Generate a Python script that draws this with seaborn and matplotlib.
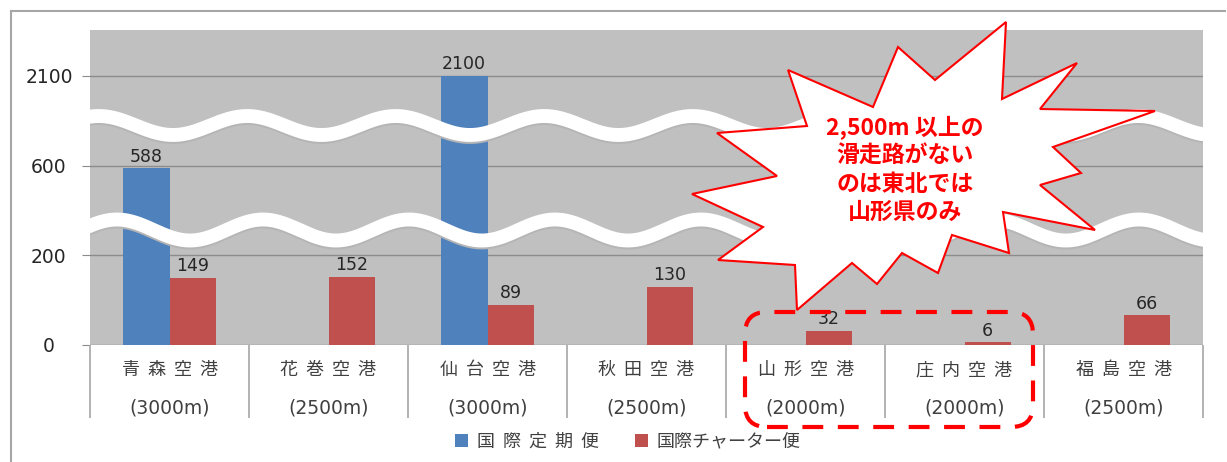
import numpy as np
import pandas as pd
import matplotlib
matplotlib.use("Agg")
import matplotlib.pyplot as plt
import seaborn as sns
from matplotlib.patches import Polygon, FancyBboxPatch, Patch
from matplotlib.lines import Line2D
from matplotlib.transforms import IdentityTransform, blended_transform_factory

# ---------------- data ----------------
airports = ['青森空港', '花巻空港', '仙台空港', '秋田空港', '山形空港', '庄内空港', '福島空港']
runways = ['(3000m)', '(2500m)', '(3000m)', '(2500m)', '(2000m)', '(2000m)', '(2500m)']
regular = [588, np.nan, 2100, np.nan, np.nan, np.nan, np.nan]
charter = [149, 152, 89, 130, 32, 6, 66]
series = ['国際定期便', '国際チャーター便']
y_ticks = [0, 200, 600, 2100]
callout_lines = ['2,500m 以上の', '滑走路がない', 'のは東北では', '山形県のみ']

BLUE = '#4F81BD'
RED = '#C0504D'
JP = 'Noto Sans CJK JP'

df = pd.DataFrame({
    'airport': airports * 2,
    'type': [series[0]] * len(airports) + [series[1]] * len(airports),
    'flights': regular + charter,
}).dropna()

W, H = 1227, 462
fig = plt.figure(figsize=(W / 100, H / 100), dpi=100)
ax = fig.add_axes([90 / W, 117 / H, 1113 / W, 315 / H])

sns.barplot(data=df, x='airport', y='flights', hue='type', order=airports,
            hue_order=series, palette=[BLUE, RED], width=0.585, saturation=1,
            errorbar=None, legend=False, ax=ax)

# broken (piecewise) axis: tick values evenly spaced
kv = np.array([-1e5, 0, 200, 600, 2100, 1e5])
ki = np.array([-1e5 / 200, 0, 1, 2, 3, 3 + (1e5 - 2100) / 1500])
fwd = lambda v: np.interp(v, kv, ki)
inv = lambda t: np.interp(t, ki, kv)
ax.set_yscale('function', functions=(fwd, inv))
ax.set_ylim(0, float(inv(315 / 89.67)))
ax.set_xlim(-0.5, len(airports) - 0.5)

ax.set_facecolor('#C0C0C0')
for s in ax.spines.values():
    s.set_visible(False)
ax.set_axisbelow(True)
ax.yaxis.grid(True, color='#8c8c8c', lw=1)
ax.xaxis.grid(False)
ax.set_yticks(y_ticks)
ax.set_yticklabels([str(t) for t in y_ticks])
ax.yaxis.set_minor_locator(matplotlib.ticker.NullLocator())
ax.tick_params(axis='y', length=5.8, color='#8c8c8c', pad=23.8, labelsize=13.5,
               labelcolor='#262626')
for lbl in ax.get_yticklabels():
    lbl.set_horizontalalignment('center')
ax.set_xticks(range(len(airports)))
ax.set_xticklabels([])
ax.tick_params(axis='x', length=0)
ax.set_xlabel('')
ax.set_ylabel('')

for c in ax.containers:
    ax.bar_label(c, fmt='%d', padding=2, fontsize=12.5, color='#262626')

# category labels and dividers
trans = blended_transform_factory(ax.transData, ax.transAxes)
for i, (a, r) in enumerate(zip(airports, runways)):
    ax.text(i, -0.0794, '  '.join(a), family=JP, fontsize=13, color='#404040',
            ha='center', va='center', transform=trans, clip_on=False)
    ax.text(i, -0.2, r, fontsize=13.5, color='#404040',
            ha='center', va='center', transform=trans, clip_on=False)
ax.vlines(np.arange(-0.5, len(airports), 1), 0, -0.232, transform=trans,
          colors='#a6a6a6', lw=1.2, clip_on=False)

# wavy break marks
xs = np.linspace(85, 1215, 800)
y_up = 125.5 + 9.5 * np.cos(2 * np.pi * (xs - 173) / 148.5)
y_lo = 230 - 10.5 * np.cos(2 * np.pi * (xs - 263) / 146)
for yy in (y_up, y_lo):
    ax.plot(xs, H - yy - 2, transform=IdentityTransform(), color='#b5b5b5', lw=10,
            solid_capstyle='butt', zorder=4)
    ax.plot(xs, H - yy, transform=IdentityTransform(), color='white', lw=10,
            solid_capstyle='butt', zorder=5)

# legend
handles = [Patch(facecolor=BLUE), Patch(facecolor=RED)]
fig.legend(handles, ['  '.join(series[0]), series[1]], loc='center',
           bbox_to_anchor=(628 / W, 20 / H), ncol=2, frameon=False,
           prop={'family': JP, 'size': 13}, handlelength=0.7, handleheight=0.7,
           columnspacing=2.0, handletextpad=0.5, labelcolor='#404040')

# outer frame
fig.add_artist(Line2D([11, 11], [H - 11, 0], transform=IdentityTransform(),
                      color='#a6a6a6', lw=1.5))
fig.add_artist(Line2D([11, 1225], [H - 11, H - 11], transform=IdentityTransform(),
                      color='#a6a6a6', lw=1.5))

# callout starburst
star = [(788, 70), (873, 107), (898, 47), (935, 80), (1006, 22), (1002, 99),
        (1077, 63), (1040, 109), (1155, 111), (1053, 147), (1081, 173), (1040, 185),
        (1095, 230), (1003, 212), (1009, 253), (952, 235), (938, 273), (902, 253),
        (877, 284), (852, 263), (797, 310), (795, 265), (718, 260), (763, 227),
        (692, 194), (777, 176), (717, 133), (807, 126)]
poly = Polygon([(x, H - y) for x, y in star], closed=True, transform=IdentityTransform(),
               facecolor='white', edgecolor='#FF0000', lw=1.5, zorder=10)
fig.add_artist(poly)
fig.text(905 / W, (H - 170) / H, '\n'.join(callout_lines), ha='center', va='center',
         color='#FF0000', fontweight='bold', fontsize=16.5, family=JP,
         linespacing=1.27, zorder=11)

# dashed highlight box
box = FancyBboxPatch((745, H - 427), 288, 115, boxstyle='round,pad=0,rounding_size=22',
                     transform=IdentityTransform(), fill=False, edgecolor='#FF0000',
                     lw=3, linestyle=(0, (5, 3.5)), zorder=9)
fig.add_artist(box)

fig.savefig('out.png', dpi=100)
